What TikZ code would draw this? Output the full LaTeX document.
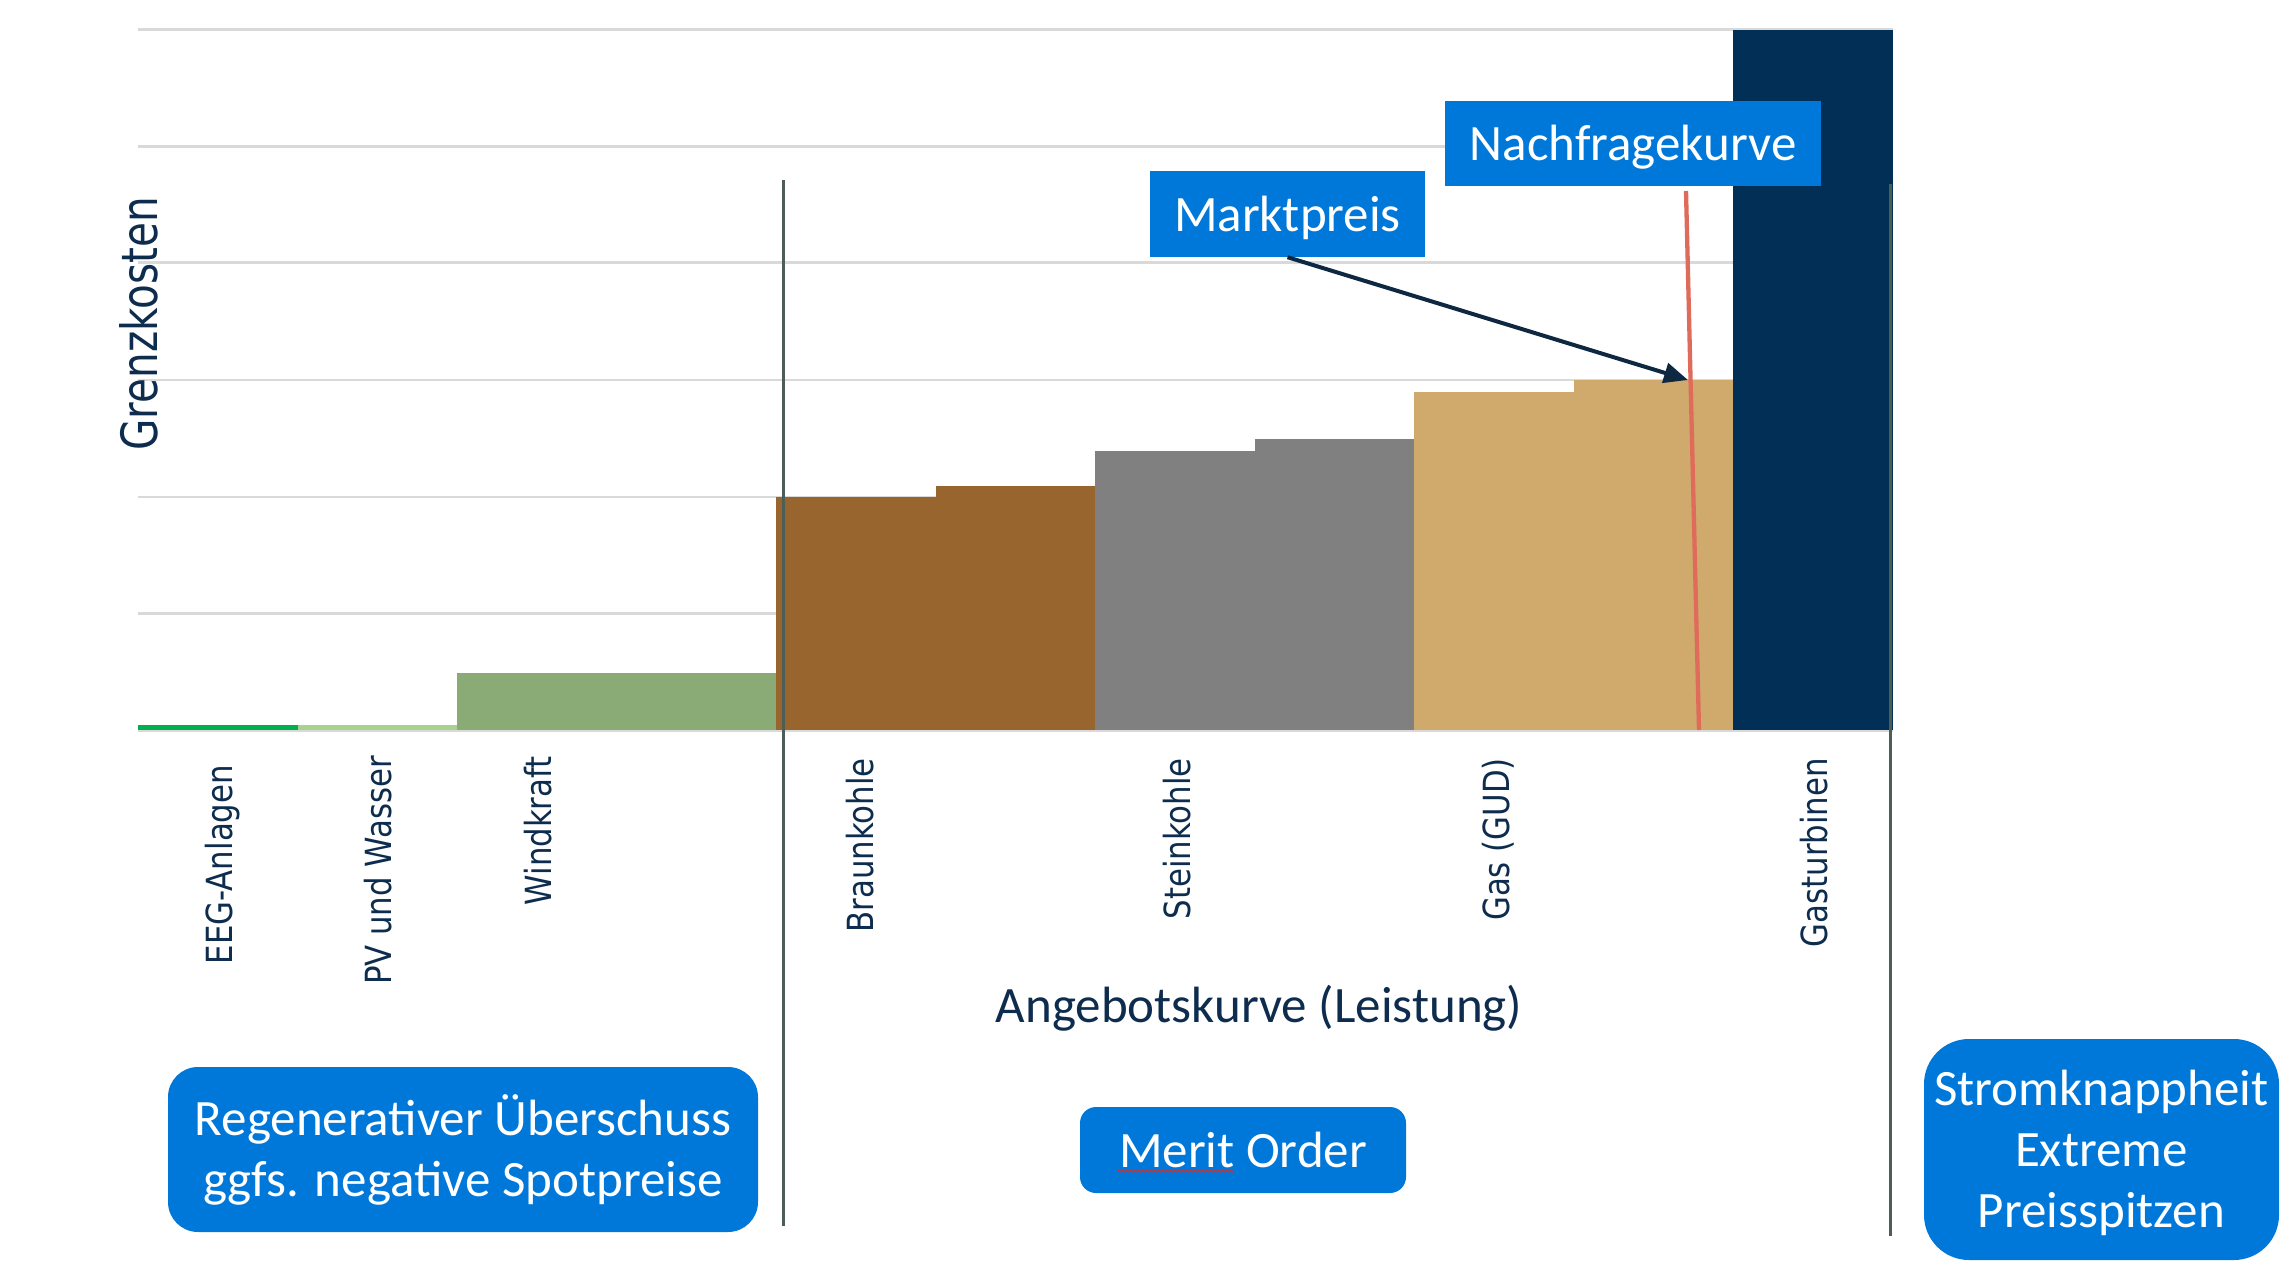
\documentclass[tikz,border=0pt]{standalone}
\usepackage{fontspec}
\usepackage{graphicx}
\setmainfont{Carlito}
\newfontfamily\dejavu{DejaVu Sans}
\usetikzlibrary{arrows.meta,decorations.pathmorphing}
\definecolor{gridgray}{HTML}{D9D9D9}
\definecolor{sepgray}{HTML}{4D5E55}
\definecolor{boxblue}{HTML}{0078DA}
\definecolor{navytext}{HTML}{0E2D4E}
\definecolor{navybar}{HTML}{012F56}
\definecolor{arrownavy}{HTML}{0E2841}
\definecolor{eeggreen}{HTML}{00B050}
\definecolor{pvgreen}{HTML}{A9D18E}
\definecolor{windgreen}{HTML}{8AAB75}
\definecolor{lignite}{HTML}{98652F}
\definecolor{coalgray}{HTML}{808080}
\definecolor{gastan}{HTML}{D0A96C}
\definecolor{demandred}{HTML}{DF6B5A}
\definecolor{spellred}{HTML}{D03030}
\begin{document}
\begin{tikzpicture}[x=1pt,y=-1pt,
  grid/.style={draw=gridgray,line width=2.5pt},
  sep/.style={draw=sepgray,line width=3pt},
  bluebox/.style={fill=boxblue,text=white,inner sep=0pt,align=center,font=\fontsize{51}{61}\selectfont},
  oneline/.style={text height=35pt,text depth=0pt},
  catlabel/.style={rotate=90,anchor=base east,inner sep=0pt,text=navytext,font=\dejavu\fontsize{36}{40}\selectfont}
]
\fill[white] (0,0) rectangle (2289,1284);
\useasboundingbox (0,0) rectangle (2289,1284);
% gridlines
\foreach \yy in {29.7,146.4,262.6,379.8,497,613.7} \draw[grid] (138,\yy) -- (1893,\yy);
% bars
\fill[eeggreen] (138,725) rectangle (298,730);
\fill[pvgreen] (298,725) rectangle (457,730);
\fill[windgreen] (457,673) rectangle (776,730);
\fill[lignite] (776,497) rectangle (936,730);
\fill[lignite] (936,486) rectangle (1095,730);
\fill[coalgray] (1095,451) rectangle (1255,730);
\fill[coalgray] (1255,439) rectangle (1414,730);
\fill[gastan] (1414,392) rectangle (1574,730);
\fill[gastan] (1574,380) rectangle (1733,730);
\fill[navybar] (1733,29.7) rectangle (1893,730);
\draw[grid] (138,731) -- (1893,731);
% separators
\coordinate (sepAtop) at (783,180);
\coordinate (sepAbot) at (783,1226);
\coordinate (sepBtop) at (1890,184);
\coordinate (sepBbot) at (1890,1236);
\draw[sep] (sepAtop) -- (sepAbot);
\draw[sep] (sepBtop) -- (sepBbot);
% boxes
\node[bluebox,oneline,minimum width=275pt,minimum height=86pt] (mp) at (1287.5,214) {Marktpreis};
\node[bluebox,oneline,minimum width=376pt,minimum height=85pt] (nf) at (1633,143.3) {Nachfragekurve};
\node[bluebox,rounded corners=30pt,minimum width=590pt,minimum height=165pt] (reg) at (463,1149.5) {Regenerativer Überschuss\\ggfs. negative Spotpreise};
\node[bluebox,oneline,rounded corners=16pt,minimum width=326pt,minimum height=86pt] (mo) at (1243,1150) {Merit Order};
\node[bluebox,rounded corners=45pt,minimum width=355pt,minimum height=221pt,text depth=2pt] (sk) at (2101.5,1149.5) {Stromknappheit\\Extreme\\Preisspitzen};
% spell-check underline under "Merit"
\coordinate (sq1) at (1118,1171);
\coordinate (sq2) at (1234,1171);
\draw[draw=spellred,line width=1.2pt,decorate,decoration={zigzag,segment length=4pt,amplitude=1.1pt}] (sq1) -- (sq2);
% arrow and demand curve
\coordinate (mkt) at (1688,380);
\draw[line width=4pt,draw=arrownavy,-{Triangle[length=24pt,width=20pt]}] (mp.south) -- (mkt);
\coordinate (d1) at (1686,191);
\coordinate (d2) at (1699,730);
\draw[draw=demandred,line width=4.3pt] (d1) -- (d2);
% axis titles
\node[rotate=90,anchor=base,inner sep=0pt,text=navytext,font=\dejavu\fontsize{50}{60}\selectfont] (yl) at (157.7,324) {\scalebox{0.81}[1]{Grenzkosten}};
\node[anchor=base,inner sep=0pt,text=navytext,font=\fontsize{51}{61}\selectfont] (ak) at (1259,1022) {Angebotskurve (Leistung)};
% category labels
\node[catlabel] (l1) at (232.5,765) {\scalebox{0.855}[1]{EEG-Anlagen}};
\node[catlabel] (l2) at (391,756) {\scalebox{0.855}[1]{PV und Wasser}};
\node[catlabel] (l3) at (551,756) {\scalebox{0.855}[1]{Windkraft}};
\node[catlabel] (l4) at (873,758) {\scalebox{0.855}[1]{Braunkohle}};
\node[catlabel] (l5) at (1190,758) {\scalebox{0.855}[1]{Steinkohle}};
\node[catlabel] (l6) at (1509,758) {\scalebox{0.855}[1]{Gas (GUD)}};
\node[catlabel] (l7) at (1827.5,758) {\scalebox{0.855}[1]{Gasturbinen}};
\end{tikzpicture}
\end{document}
